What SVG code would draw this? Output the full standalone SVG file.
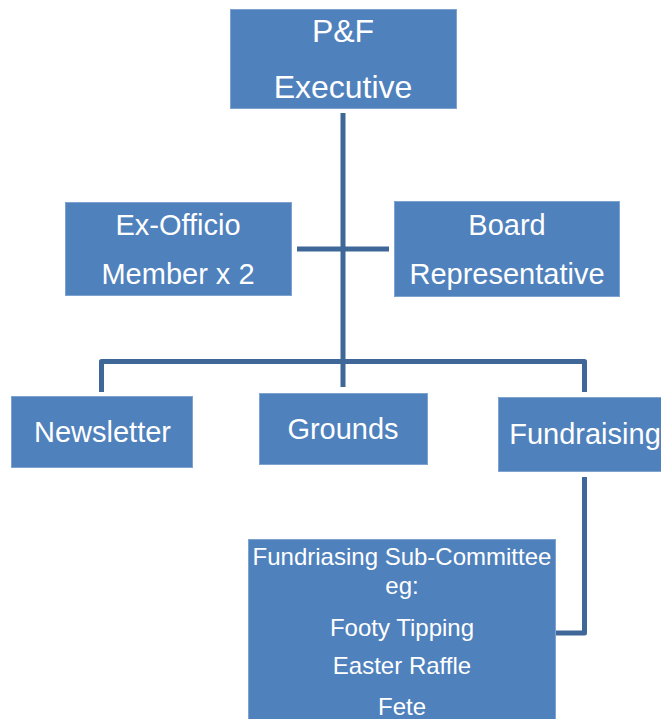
<svg xmlns="http://www.w3.org/2000/svg" width="661" height="719" viewBox="0 0 661 719">
<style>
.box{fill:#4F81BD;stroke:#7FA3D1;stroke-width:1}
.t{fill:#FFFFFF;font-family:"Liberation Sans",Arial,sans-serif;text-anchor:middle}
.l{font-size:29px}
.xl{font-size:32px}
.s{font-size:24px}
.c{fill:none;stroke:#3F6797;stroke-width:5;stroke-linejoin:round}
</style>
<rect width="661" height="719" fill="#FFFFFF"/>
<g id="connectors">
<path class="c" d="M343 113 V387"/>
<path class="c" d="M297 249 H389"/>
<path class="c" d="M101.5 392 V361.5 H584.5 V392"/>
<path class="c" d="M584.5 477 V633 H556"/>
</g>
<g id="executive">
<rect class="box" x="230.5" y="9.5" width="226" height="99"/>
<text class="t xl" x="343" y="42">P&amp;F</text>
<text class="t xl" x="343" y="98">Executive</text>
</g>
<g id="exofficio">
<rect class="box" x="65.5" y="202.5" width="226" height="93"/>
<text class="t l" x="178" y="235">Ex-Officio</text>
<text class="t l" x="178" y="284">Member x 2</text>
</g>
<g id="board">
<rect class="box" x="394.5" y="201.5" width="225" height="95"/>
<text class="t l" x="507" y="235">Board</text>
<text class="t l" x="507" y="284">Representative</text>
</g>
<g id="newsletter">
<rect class="box" x="11.5" y="396.5" width="181" height="71"/>
<text class="t l" x="102.5" y="442">Newsletter</text>
</g>
<g id="grounds">
<rect class="box" x="259.5" y="393.5" width="168" height="71"/>
<text class="t l" x="343" y="439">Grounds</text>
</g>
<g id="fundraising">
<rect class="box" x="498.5" y="397.5" width="170" height="74"/>
<text class="t l" x="585" y="444">Fundraising</text>
</g>
<g id="subcommittee">
<rect class="box" x="248.5" y="539.5" width="307" height="190"/>
<text class="t s" x="402" y="565">Fundriasing Sub-Committee</text>
<text class="t s" x="402" y="594">eg:</text>
<text class="t s" x="402" y="636">Footy Tipping</text>
<text class="t s" x="402" y="674">Easter Raffle</text>
<text class="t s" x="402" y="715">Fete</text>
</g>
</svg>
